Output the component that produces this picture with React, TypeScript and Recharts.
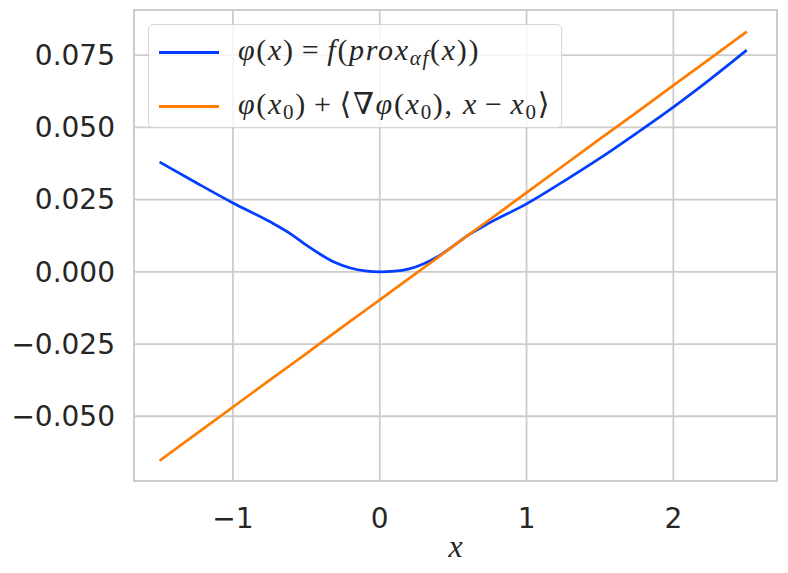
import React from "react";
import {
  LineChart,
  Line,
  XAxis,
  YAxis,
  CartesianGrid,
  Legend,
  ReferenceArea,
} from "recharts";

// x samples and the two curves
const xs = [
  -1.5, -1.25, -1, -0.75, -0.6, -0.5, -0.4, -0.3, -0.2, -0.1, 0, 0.1, 0.2, 0.3,
  0.4, 0.5, 0.6, 0.75, 1, 1.25, 1.5, 1.75, 2, 2.25, 2.5,
];
const envelope = [
  0.038, 0.0308, 0.0238, 0.0174, 0.0129, 0.0092, 0.0059, 0.0031, 0.0013,
  0.0003, 0, 0.0002, 0.001, 0.0028, 0.0054, 0.0089, 0.0126, 0.017, 0.0235,
  0.0312, 0.0393, 0.048, 0.057, 0.0666, 0.0767,
];
const tangent = [
  -0.0654, -0.0561, -0.0468, -0.0375, -0.032, -0.0283, -0.0245, -0.0208,
  -0.0171, -0.0134, -0.0097, -0.006, -0.0023, 0.0014, 0.0051, 0.0089, 0.0126,
  0.0181, 0.0274, 0.0367, 0.046, 0.0552, 0.0645, 0.0738, 0.0831,
];

const xTicks = [-1, 0, 1, 2];
const yTicks = [-0.05, -0.025, 0, 0.025, 0.05, 0.075];
const X_DOMAIN: [number, number] = [-1.674, 2.706];
const Y_DOMAIN: [number, number] = [-0.0724, 0.0906];

const BLUE = "#023eff";
const ORANGE = "#ff7c00";
const GRID = "#cccccc";
const TEXT = "#262626";

const data = xs.map((x, i) => ({ x, envelope: envelope[i], tangent: tangent[i] }));

const minus = (s: string) => s.replace("-", "\u2212");

const mathFont = '"Liberation Serif", "DejaVu Serif", serif';

function Sub({ children }: { children: React.ReactNode }) {
  return (
    <span style={{ fontSize: "0.7em", verticalAlign: "-0.25em" }}>{children}</span>
  );
}

// wide spacing around operators, like TeX
const op = (s: string) => <span style={{ margin: "0 7px" }}>{s}</span>;

function MathLegend() {
  const row = (color: string, label: React.ReactNode) => (
    <div style={{ display: "flex", alignItems: "center", height: 54 }}>
      <div
        style={{ width: 60, height: 3, background: color, marginLeft: 10, marginRight: 19 }}
      />
      <span
        style={{
          fontFamily: mathFont,
          fontSize: 30,
          letterSpacing: 1.7,
          color: TEXT,
          whiteSpace: "nowrap",
        }}
      >
        {label}
      </span>
    </div>
  );
  return (
    <div
      style={{
        background: "rgba(255,255,255,0.8)",
        border: "1.5px solid #d6d6d6",
        borderRadius: 5,
        width: 414,
        height: 104,
        boxSizing: "border-box",
      }}
    >
      {row(
        BLUE,
        <>
          <i>φ</i>(<i>x</i>){op("=")}<i>f</i>(<i>prox</i>
          <Sub>
            <i>αf</i>
          </Sub>
          (<i>x</i>))
        </>
      )}
      {row(
        ORANGE,
        <>
          <i>φ</i>(<i>x</i>
          <Sub>0</Sub>){op("+")}⟨∇<i>φ</i>(<i>x</i>
          <Sub>0</Sub>), <i>x</i>{op("−")}<i>x</i>
          <Sub>0</Sub>⟩
        </>
      )}
    </div>
  );
}

export default function App() {
  return (
    <div style={{ position: "absolute", left: 0, top: 0, background: "#fff" }}>
      <LineChart
        width={788}
        height={573}
        data={data}
        margin={{ top: 10, right: 11, left: 0, bottom: 0 }}
      >
        <CartesianGrid stroke={GRID} strokeWidth={1.8} />
        <XAxis
          dataKey="x"
          type="number"
          domain={X_DOMAIN}
          ticks={xTicks}
          allowDataOverflow
          height={92}
          axisLine={false}
          tickLine={false}
          tickSize={0}
          tickMargin={27}
          tick={{ fontSize: 28, fill: TEXT, fontFamily: "DejaVu Sans" }}
          tickFormatter={(v: number) => minus(String(v))}
          label={{
            value: "x",
            position: "insideBottom",
            offset: 16,
            style: { fontFamily: mathFont, fontStyle: "italic", fontSize: 32, fill: TEXT },
          }}
        />
        <YAxis
          type="number"
          domain={Y_DOMAIN}
          ticks={yTicks}
          allowDataOverflow
          width={134}
          axisLine={false}
          tickLine={false}
          tickSize={0}
          tickMargin={19}
          tick={{ fontSize: 28, fill: TEXT, fontFamily: "DejaVu Sans" }}
          tickFormatter={(v: number) => minus(v.toFixed(3))}
        />
        <ReferenceArea
          x1={X_DOMAIN[0]}
          x2={X_DOMAIN[1]}
          y1={Y_DOMAIN[0]}
          y2={Y_DOMAIN[1]}
          fill="none"
          stroke={GRID}
          strokeWidth={2}
          ifOverflow="visible"
        />
        <Line
          type="monotone"
          dataKey="envelope"
          stroke={BLUE}
          strokeWidth={2.7}
          dot={false}
          isAnimationActive={false}
        />
        <Line
          type="linear"
          dataKey="tangent"
          stroke={ORANGE}
          strokeWidth={2.7}
          dot={false}
          isAnimationActive={false}
        />
        <Legend
          layout="vertical"
          align="center"
          verticalAlign="middle"
          wrapperStyle={{ left: 148, top: 24, width: 414 }}
          content={() => <MathLegend />}
        />
      </LineChart>
    </div>
  );
}
